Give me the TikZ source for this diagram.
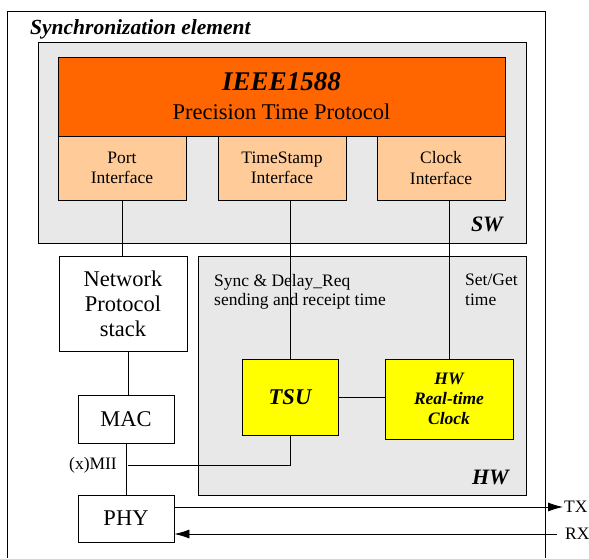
\documentclass[tikz,border=0pt]{standalone}
\usepackage{fontspec}
\setmainfont{Liberation Serif}
\usetikzlibrary{arrows.meta,positioning,calc}

\definecolor{ptporange}{HTML}{FF6600}
\definecolor{ifpeach}{HTML}{FFCC99}
\definecolor{areagray}{HTML}{E8E8E8}
\definecolor{hwyellow}{HTML}{FFFF00}

\tikzset{
  blk/.style={draw, line width=0.8pt, align=center, inner sep=0pt},
  area/.style={blk, fill=areagray},
  ifbox/.style={blk, fill=ifpeach, minimum width=128pt, minimum height=64pt,
    font=\fontsize{17.5}{20.5}\selectfont},
  netbox/.style={blk, fill=white, font=\fontsize{22.5}{25}\selectfont},
  hwbox/.style={blk, fill=hwyellow},
  wire/.style={line width=0.8pt},
  tag/.style={font=\fontsize{22}{24}\selectfont\bfseries\itshape},
  small/.style={font=\fontsize{17.5}{19.5}\selectfont}
}

\begin{document}
\begin{tikzpicture}[x=1pt, y=-1pt]
    \useasboundingbox (0,0) rectangle (589,558);
    % outer frame, open at the bottom
    \draw[wire] (7,558) -- (7,11) -- (545,11) -- (545,558);
    \node[anchor=west, inner sep=0pt, font=\fontsize{21.5}{24}\selectfont\bfseries\itshape] (title) at (30,29) {Synchronization element};

    % software part
    \node[area, minimum width=488pt, minimum height=201pt] (sw) at (282,142.5) {};
    \node[blk, fill=ptporange, minimum width=447pt, minimum height=79pt,
          font=\fontsize{22.5}{29}\selectfont] (ptp) at (281.5,96.5)
        {{\fontsize{27}{29}\selectfont\bfseries\itshape IEEE1588}\\Precision Time Protocol};
    \node[ifbox] (port) at (122,168) {Port\\Interface};
    \node[ifbox] (tsif) at (282,168) {TimeStamp\\Interface};
    \node[ifbox] (clkif) at (441,168) {Clock\\Interface};
    \node[tag, anchor=east, inner sep=0pt] (swlbl) at (503,224) {SW};

    % hardware part
    \node[area, minimum width=328pt, minimum height=239pt] (hw) at (362,375.5) {};
    \node[hwbox, minimum width=96pt, minimum height=76pt, font=\fontsize{22.5}{24}\selectfont\bfseries\itshape] (tsu) at (290,397) {TSU};
    \node[hwbox, minimum width=128pt, minimum height=80pt, font=\fontsize{17.5}{20}\selectfont\bfseries\itshape] (rtc) at (449,399) {HW\\Real-time\\Clock};
    \node[tag, anchor=east, inner sep=0pt] (hwlbl) at (509,477) {HW};
    \node[small, anchor=north west, align=left, inner sep=0pt] (synctxt) at (214,274)
        {Sync \& Delay\_Req\\sending and receipt time};
    \node[small, anchor=north west, align=left, inner sep=0pt] (settxt) at (465,274)
        {Set/Get\\time};

    % network side
    \node[netbox, minimum width=128pt, minimum height=95pt] (nps) at (123,303.5) {Network\\Protocol\\stack};
    \node[netbox, minimum width=96pt, minimum height=48pt] (mac) at (126,419) {MAC};
    \node[netbox, minimum width=96pt, minimum height=47pt] (phy) at (126,518.5) {PHY};

    \coordinate (mii) at (290,465);
    \coordinate (miiend) at (128,465);
    \node[small, anchor=east, inner sep=0pt] (miilbl) at (117,465) {(x)MII};
    \coordinate (txend) at (563,507);
    \coordinate (rxstart) at (557,534);
    \node[small, anchor=west, inner sep=1pt] (txlbl) at (txend) {TX};
    \node[small, anchor=west, inner sep=1pt] (rxlbl) at (564,534) {RX};

    % connections
    \draw[wire] (port.south) -- (port.south |- nps.north);
    \draw[wire] (tsu.north |- tsif.south) -- (tsu.north);
    \draw[wire] (rtc.north |- clkif.south) -- (rtc.north);
    \draw[wire] (tsu.east) -- (tsu.east -| rtc.west);
    \draw[wire] ([xshift=5pt]nps.south) -- ([xshift=5pt]nps.south |- mac.north);
    \draw[wire] (mac.south) -- (phy.north);
    \draw[wire] (tsu.south) -- (mii) -- (miiend);
    \draw[wire, -{Latex[length=15pt, width=9pt]}] (phy.east |- txend) -- (txend);
    \draw[wire, -{Latex[length=15pt, width=9pt]}] (rxstart) -- (phy.east |- rxstart);
\end{tikzpicture}
\end{document}
